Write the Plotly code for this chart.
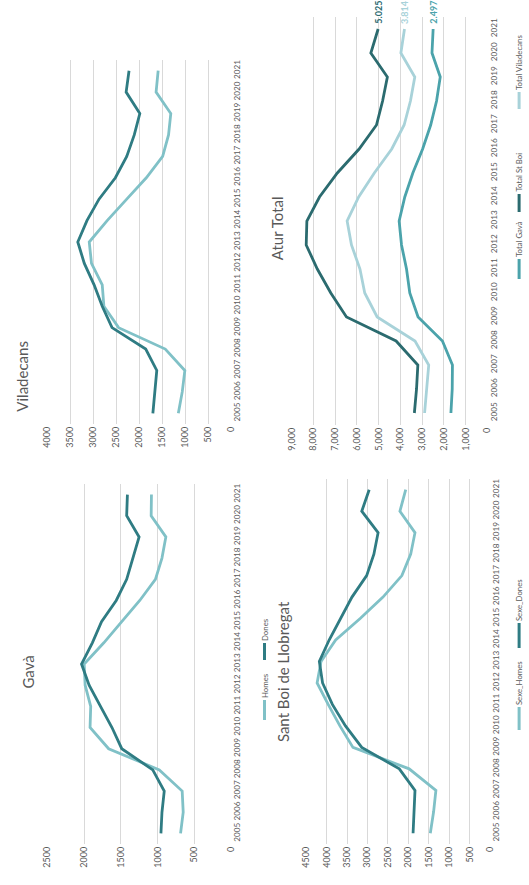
import plotly.graph_objects as go

# ---------------- data ----------------
years = list(range(2005, 2022))

gava_homes = [689, 653, 667, 978, 1667, 1920, 1911, 1987, 2000, 1733, 1489, 1244, 1031, 942, 889, 1089, 1085]
gava_dones = [956, 942, 911, 1067, 1489, 1622, 1778, 1933, 2036, 1889, 1764, 1564, 1422, 1333, 1253, 1422, 1412]

vila_homes = [1151, 1066, 1009, 1435, 2451, 2771, 2807, 3041, 3090, 2700, 2274, 1848, 1492, 1364, 1315, 1635, 1590]
vila_dones = [1705, 1669, 1620, 1861, 2594, 2807, 2984, 3197, 3339, 3140, 2877, 2521, 2274, 2110, 1989, 2287, 2224]

sboi_homes = [1463, 1382, 1326, 1981, 3358, 3677, 3965, 4236, 4140, 3781, 3181, 2622, 2159, 1943, 1838, 2207, 2065]
sboi_dones = [1885, 1862, 1838, 2222, 3142, 3541, 3862, 4102, 4181, 3941, 3661, 3382, 3022, 2845, 2742, 3142, 2960]

total_gava = [1680, 1620, 1610, 2070, 3190, 3570, 3720, 3950, 4060, 3800, 3430, 2980, 2610, 2340, 2170, 2550, 2497]
total_sboi = [3360, 3260, 3200, 4200, 6480, 7200, 7820, 8330, 8300, 7720, 6900, 5900, 5100, 4820, 4600, 5360, 5025]
total_vila = [2890, 2790, 2700, 3330, 5070, 5640, 5860, 6250, 6450, 5920, 5200, 4400, 3830, 3540, 3340, 3980, 3814]

# ---------------- styling ----------------
W, H = 529, 885
FONT = "Lato"
TXT = "#595959"
GRID = "#d9d9d9"
LIGHT = "#80c1c7"
DARK = "#2f7c83"
T_GAVA = "#4ba3ab"
T_SBOI = "#2b6b6f"
T_VILA = "#a8d2d9"


def px(x):
    return x / W


def py(y):
    return 1 - y / H


fig = go.Figure()

# Each panel: value axis runs horizontally (reversed), years run upward.
panels = [
    dict(key="", title="Viladecans", title_xy=(16, 376), xdom=(42.3, 230), ydom=(60, 424),
         vmax=4000, dtick=500, fmt="d",
         series=[("Homes", vila_homes, LIGHT), ("Dones", vila_dones, DARK)]),
    dict(key="2", title="Gavà", title_xy=(22, 672), xdom=(42.3, 230), ydom=(484, 844),
         vmax=2500, dtick=500, fmt="d",
         series=[("Homes", gava_homes, LIGHT), ("Dones", gava_dones, DARK)]),
    dict(key="3", title="Atur Total", title_xy=(277, 228), xdom=(291.7, 491.7), ydom=(17, 425),
         vmax=9000, dtick=1000, fmt=",d",
         series=[("Total Gavà", total_gava, T_GAVA), ("Total St Boi", total_sboi, T_SBOI),
                 ("Total Viladecans", total_vila, T_VILA)]),
    dict(key="4", title="Sant Boi de Llobregat", title_xy=(283, 672), xdom=(306.7, 494.3), ydom=(479, 844),
         vmax=4500, dtick=500, fmt="d",
         series=[("Sexe_Homes", sboi_homes, LIGHT), ("Sexe_Dones", sboi_dones, DARK)]),
]

annotations = []
for p in panels:
    k = p["key"]
    xa, ya = "x" + k, "y" + k
    for name, vals, col in p["series"]:
        fig.add_trace(go.Scatter(
            x=vals, y=years, mode="lines", name=name,
            line=dict(color=col, width=2.8),
            xaxis=xa, yaxis=ya, showlegend=False, hoverinfo="skip"))
    fig.update_layout(**{
        "xaxis" + k: dict(
            domain=[px(p["xdom"][0]), px(p["xdom"][1])],
            range=[p["vmax"], 0], dtick=p["dtick"], tickformat=p["fmt"],
            showgrid=True, gridcolor=GRID, gridwidth=1, zeroline=False, showline=False,
            ticks="", tickangle=-90, side="bottom", anchor=ya,
            tickfont=dict(family=FONT, size=9, color=TXT), fixedrange=True),
        "yaxis" + k: dict(
            domain=[py(p["ydom"][1]), py(p["ydom"][0])],
            range=[2004.5, 2021.5], tickvals=years, ticktext=[str(y) for y in years],
            showgrid=False, zeroline=False, showline=False, ticks="",
            tickangle=-90, side="right", anchor=xa,
            tickfont=dict(family=FONT, size=8.2, color=TXT), fixedrange=True),
    })
    tx, ty = p["title_xy"]
    annotations.append(dict(
        text=p["title"], x=px(tx), y=py(ty), xref="paper", yref="paper",
        xanchor="center", yanchor="middle", textangle=-90, showarrow=False,
        font=dict(family=FONT, size=15, color=TXT)))

# Value labels at the 2021 point of the totals chart
for vals, col in [(total_sboi, T_SBOI), (total_vila, T_VILA), (total_gava, T_GAVA)]:
    v = vals[-1]
    annotations.append(dict(
        text="<b>" + f"{v:,}".replace(",", ".") + "</b>", x=v, y=years[-1],
        xref="x3", yref="y3", xanchor="center", yanchor="bottom", yshift=3,
        textangle=-90, showarrow=False,
        font=dict(family=FONT, size=9, color=col)))

# Legends drawn as rotated entries: swatch below, label starting just above it
legends = [
    (264, [("Homes", LIGHT, (700, 720)), ("Dones", DARK, (643, 660))]),
    (524, [("Sexe_Homes", LIGHT, (707, 730)), ("Sexe_Dones", DARK, (623, 648))]),
    (524, [("Total Gavà", T_GAVA, (259, 279)), ("Total St Boi", T_SBOI, (194, 212)),
           ("Total Viladecans", T_VILA, (92, 109))]),
]
shapes = []
for lx, items in legends:
    for label, col, (s0, s1) in items:
        shapes.append(dict(type="line", xref="paper", yref="paper",
                           x0=px(lx), x1=px(lx), y0=py(s0), y1=py(s1),
                           line=dict(color=col, width=3)))
        annotations.append(dict(
            text=label, x=px(lx), y=py(s0 - 1), xref="paper", yref="paper",
            xanchor="center", yanchor="bottom", textangle=-90, showarrow=False,
            borderpad=0, font=dict(family=FONT, size=7.8, color=TXT)))

fig.update_layout(
    width=W, height=H, margin=dict(l=0, r=0, t=0, b=0),
    paper_bgcolor="white", plot_bgcolor="white",
    annotations=annotations, shapes=shapes, showlegend=False,
)

fig.write_html("out.html", config={"displayModeBar": False})
